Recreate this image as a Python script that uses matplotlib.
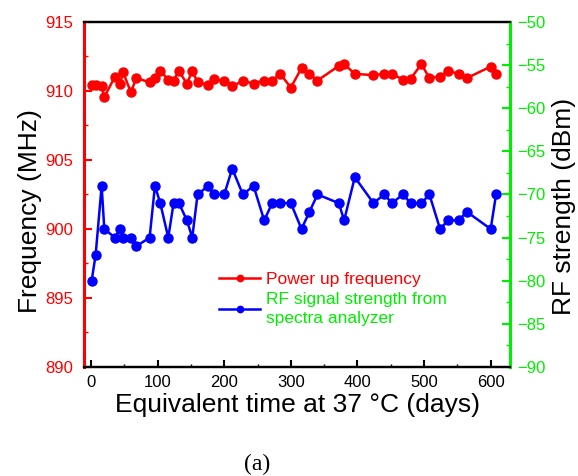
import matplotlib
matplotlib.use("Agg")
import matplotlib.pyplot as plt
from matplotlib.ticker import MultipleLocator

plt.rcParams["font.family"] = ["Liberation Sans", "DejaVu Sans"]

# ------------------------------------------------------
# Donnees
# ------------------------------------------------------
days = [1, 7, 16, 20, 36, 44, 48, 60, 68, 88, 96, 104, 116, 124, 132, 144,
        152, 160, 176, 184, 200, 212, 228, 244, 260, 272, 284, 300, 316, 328,
        340, 372, 380, 396, 424, 440, 452, 468, 480, 496, 508, 524, 536, 552,
        564, 600, 608]

freq_mhz = [910.44, 910.44, 910.37, 909.55, 911.05, 910.52, 911.37, 909.91,
            910.93, 910.64, 910.93, 911.48, 910.81, 910.76, 911.46, 910.52,
            911.46, 910.64, 910.44, 910.86, 910.73, 910.35, 910.73, 910.54,
            910.76, 910.76, 911.24, 910.25, 911.66, 911.24, 910.76, 911.82,
            911.95, 911.24, 911.15, 911.24, 911.24, 910.83, 910.90, 911.95,
            910.93, 911.05, 911.46, 911.24, 910.93, 911.77, 911.24]

rf_dbm = [-80, -77, -69, -74, -75, -74, -75, -75, -76, -75, -69, -71, -75,
          -71, -71, -73, -75, -70, -69, -70, -70, -67, -70, -69, -73, -71,
          -71, -71, -74, -72, -70, -71, -73, -68, -71, -70, -71, -70, -71,
          -71, -70, -74, -73, -73, -72, -74, -70]

RED = "#ff0000"
BLUE = "#0000ff"
GREEN = "#00ee00"

fig = plt.figure(figsize=(5.78, 4.76), dpi=100)
ax = fig.add_axes([0.1453, 0.229, 0.7371, 0.7248])
ax2 = ax.twinx()

l1, = ax.plot(days, freq_mhz, color=RED, marker="o", markersize=6.5, lw=1.8,
              label="Power up frequency")
l2, = ax2.plot(days, rf_dbm, color=BLUE, marker="o", markersize=6.5, lw=1.8,
               label="RF signal strength from\nspectra analyzer")

ax.set_xlim(-10.5, 629)
ax.set_ylim(890, 915)
ax2.set_ylim(-90, -50)

ax.xaxis.set_major_locator(MultipleLocator(100))
ax.xaxis.set_minor_locator(MultipleLocator(50))
ax.yaxis.set_major_locator(MultipleLocator(5))
ax.yaxis.set_minor_locator(MultipleLocator(2.5))
ax2.yaxis.set_major_locator(MultipleLocator(5))
ax2.yaxis.set_minor_locator(MultipleLocator(2.5))

# spines
for a in (ax, ax2):
    a.spines["top"].set_color("black")
    a.spines["top"].set_linewidth(1.6)
    a.spines["bottom"].set_color("black")
    a.spines["bottom"].set_linewidth(1.6)
ax.spines["left"].set_color(RED)
ax.spines["left"].set_linewidth(2.2)
ax.spines["right"].set_visible(False)
ax2.spines["left"].set_visible(False)
ax2.spines["right"].set_color(GREEN)
ax2.spines["right"].set_linewidth(2.2)

ax.tick_params(axis="x", which="both", direction="in", top=False,
               colors="black", labelsize=12, pad=6)
ax.tick_params(axis="x", which="major", length=5, width=1.5)
ax.tick_params(axis="x", which="minor", length=2.5, width=1)
ax.tick_params(axis="y", which="both", direction="in", colors=RED,
               labelsize=12, pad=8)
ax.tick_params(axis="y", which="major", length=6, width=1.5)
ax.tick_params(axis="y", which="minor", length=3, width=1)
ax2.tick_params(axis="y", which="both", direction="in", colors=GREEN,
                labelsize=12, pad=5)
ax2.tick_params(axis="y", which="major", length=6, width=1.5)
ax2.tick_params(axis="y", which="minor", length=3, width=1)

ax.set_xlabel("Equivalent time at 37 \u00b0C (days)", fontsize=19, labelpad=2)
ax.set_ylabel("Frequency (MHz)", fontsize=19)
ax2.set_ylabel("RF strength (dBm)", fontsize=19)
ax.yaxis.set_label_coords(-0.098, 0.452)
ax2.yaxis.set_label_coords(1.098, 0.464)

leg = ax2.legend(handles=[l1, l2], loc="upper left",
                 bbox_to_anchor=(0.296, 0.30), frameon=False, fontsize=12.5,
                 handlelength=2.4, handletextpad=0.3, borderpad=0,
                 labelspacing=0.25, markerscale=0.7)
leg.get_texts()[0].set_color(RED)
leg.get_texts()[1].set_color(GREEN)
leg.get_texts()[1].set_linespacing(1.4)

fig.text(0.444, 0.025, "(a)", fontsize=17, family="Liberation Serif",
         ha="center", va="center")

fig.savefig("out.png", dpi=100)
